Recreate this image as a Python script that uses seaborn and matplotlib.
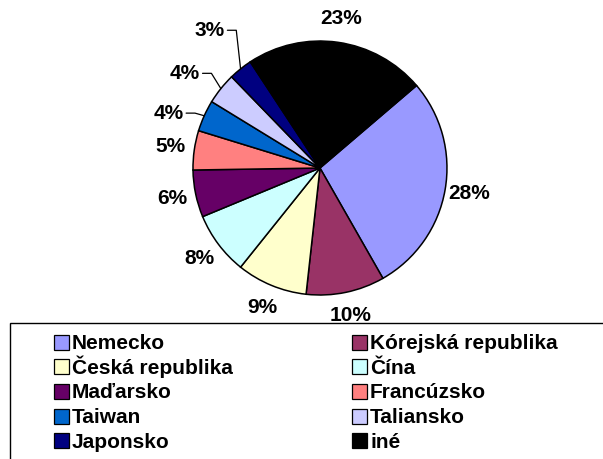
import numpy as np
import matplotlib
matplotlib.use("Agg")
import matplotlib.pyplot as plt
import seaborn as sns
from matplotlib.patches import Rectangle

# shares of partner countries (percent)
countries = ["Nemecko", "Kórejská republika", "Česká republika", "Čína", "Maďarsko",
             "Francúzsko", "Taiwan", "Taliansko", "Japonsko", "iné"]
shares = [28, 10, 9, 8, 6, 5, 4, 4, 3, 23]
slice_colors = ["#9999FF", "#993366", "#FFFFCC", "#CCFFFF", "#660066",
                "#FF8080", "#0066CC", "#CCCCFF", "#000080", "#000000"]

sns.set_theme(style="white")
plt.rcParams['font.family'] = ['Liberation Sans', 'DejaVu Sans']
plt.rcParams['text.color'] = 'black'
palette = sns.color_palette(slice_colors)

W, H = 603, 459
fig = plt.figure(figsize=(W / 100, H / 100), dpi=100)
ax = fig.add_axes([0.2674, 0.2881, 0.5265, 0.6917])

wedges, _ = ax.pie(shares, colors=palette, startangle=40.5, counterclock=False,
                   wedgeprops=dict(edgecolor='black', linewidth=1.1))
ax.set_xlim(-1.25, 1.25)
ax.set_ylim(-1.25, 1.25)
ax.set_aspect('equal')

# crowded small slices get pushed out and get leader lines
label_nudge = {6: (1.27, 4.4), 7: (1.30, 3.7), 8: (1.39, 0.0)}
for i, w in enumerate(wedges):
    mid = np.deg2rad((w.theta1 + w.theta2) / 2)
    dist, shift = label_nudge.get(i, (1.19, 0.0))
    a = mid + np.deg2rad(shift)
    lx, ly = dist * np.cos(a), dist * np.sin(a)
    ax.text(lx, ly, f"{shares[i]}%", ha='center', va='center',
            fontsize=15, fontweight='bold', color='black')
    if i in label_nudge:
        x0 = lx + 0.14
        ax.plot([x0, x0 + 0.07, np.cos(mid)], [ly, ly, np.sin(mid)],
                color='black', lw=0.9, clip_on=False)

# legend box runs off the right and bottom edges like the original
fig.add_artist(Rectangle((10 / W, -0.2), 2, 1 - 323 / H + 0.2,
                         transform=fig.transFigure, fill=False,
                         edgecolor='black', linewidth=1.0))

# two-column legend, row-major order, drawn by hand so rows line up
col_x = [54, 352]
row_y0, row_step, box = 342, 24.7, 15
for i, name in enumerate(countries):
    x = col_x[i % 2]
    yc = row_y0 + (i // 2) * row_step
    fig.add_artist(Rectangle((x / W, 1 - (yc + box / 2) / H), box / W, box / H,
                             transform=fig.transFigure, facecolor=palette[i],
                             edgecolor='black', linewidth=0.9))
    fig.text((x + box + 3) / W, 1 - (yc + 7) / H, name, ha='left', va='baseline',
             fontsize=15, fontweight='bold', color='black')

fig.savefig("out.png", dpi=100)
